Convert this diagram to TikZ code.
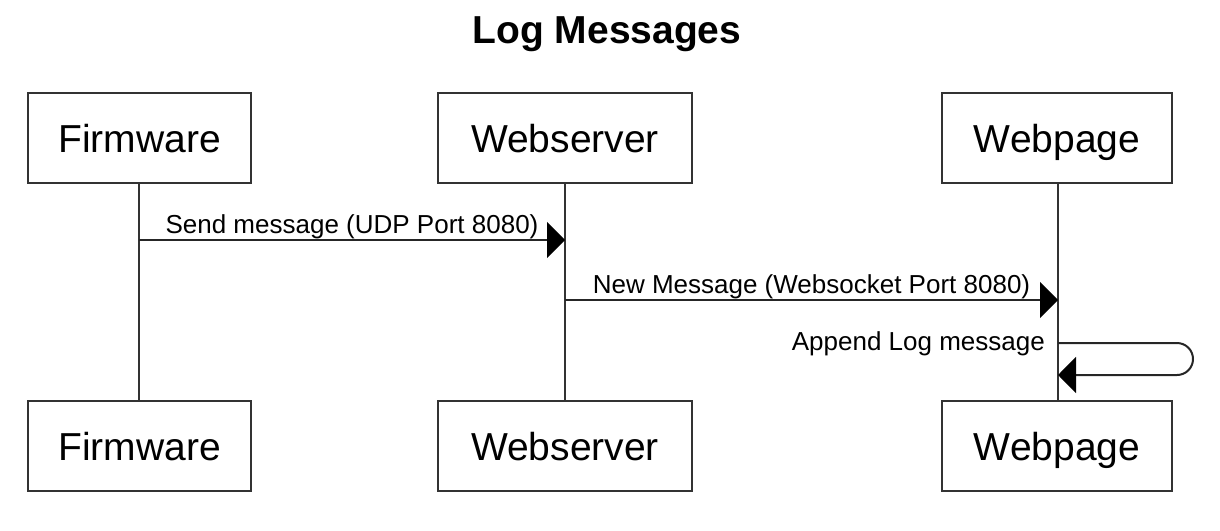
\documentclass[tikz,border=0pt]{standalone}
\usepackage{fontspec}
\setmainfont{Liberation Sans}
\usetikzlibrary{arrows.meta}
\begin{document}
\begin{tikzpicture}[x=1pt,y=-1pt,
  actor/.style={draw=black!80,line width=2pt,fill=white,minimum width=#1,minimum height=90pt,inner sep=0pt,text height=28pt,text depth=0pt,font=\fontsize{39}{44}\selectfont},
  life/.style={draw=black!80,line width=2pt},
  msg/.style={draw=black!85,line width=2pt,-{Triangle[length=18pt,width=36pt,color=black]}},
  lbl/.style={font=\fontsize{26}{30}\selectfont,inner sep=2pt}]
\useasboundingbox (0,0) rectangle (1220,530);
\node[font=\fontsize{39}{44}\selectfont\bfseries] (title) at (607,34) {Log Messages};
% lifelines first
\coordinate (fT) at (139,183); \coordinate (fB) at (139,401);
\coordinate (sT) at (565,183); \coordinate (sB) at (565,401);
\coordinate (pT) at (1058,183); \coordinate (pB) at (1058,401);
\draw[life] (fT) -- (fB);
\draw[life] (sT) -- (sB);
\draw[life] (pT) -- (pB);
\node[actor=223pt] (f1) at (139.5,138) {Firmware};
\node[actor=254pt] (s1) at (565,138) {Webserver};
\node[actor=230pt] (p1) at (1057,138) {Webpage};
\node[actor=223pt] (f2) at (139.5,446) {Firmware};
\node[actor=254pt] (s2) at (565,446) {Webserver};
\node[actor=230pt] (p2) at (1057,446) {Webpage};
% messages
\coordinate (m1a) at (139,240); \coordinate (m1b) at (565,240);
\draw[msg] (m1a) -- (m1b) node[lbl,midway,above,yshift=-2pt] (l1) {Send message (UDP Port 8080)};
\coordinate (m2a) at (565,300); \coordinate (m2b) at (1058,300);
\draw[msg] (m2a) -- (m2b) node[lbl,midway,above,yshift=-2pt] (l2) {New Message (Websocket Port 8080)};
\coordinate (m3a) at (1058,343); \coordinate (m3b) at (1058,375);
\draw[msg,rounded corners=16pt] (m3a) -- (1193,343) -- (1193,375) -- (m3b);
\node[lbl,anchor=east] (l3) at (1047,344) {Append Log message};
\end{tikzpicture}
\end{document}
